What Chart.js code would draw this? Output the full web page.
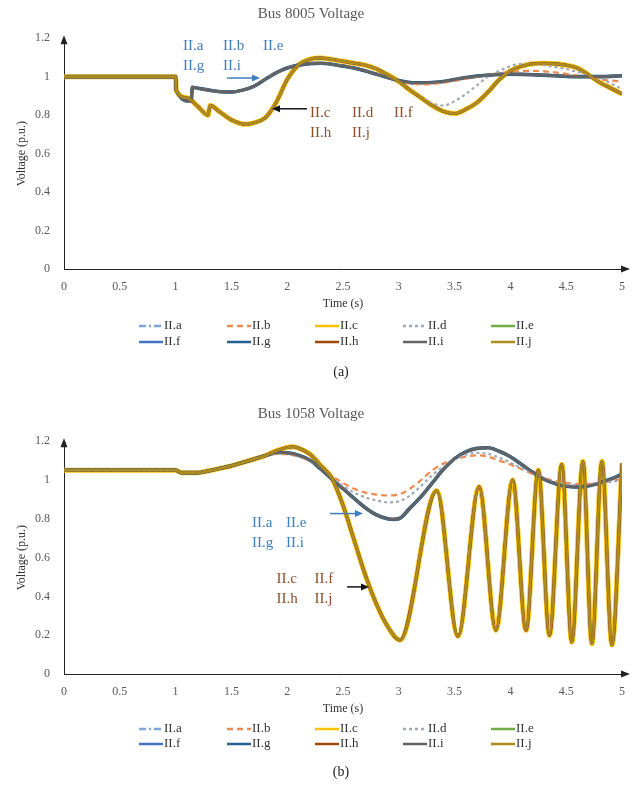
<!DOCTYPE html>
<html>
<head>
<meta charset="utf-8">
<script src="https://cdn.jsdelivr.net/npm/chart.js@4.4.1/dist/chart.umd.min.js"></script>
<style>
  body { margin: 0; background: #fff; }
  .box { position: absolute; left: 0; width: 644px; height: 398px; }
</style>
</head>
<body>
<div class="box" style="top:0"><canvas id="chartA"></canvas></div>
<div class="box" style="top:398px"><canvas id="chartB"></canvas></div>
<script>
// series names
const seriesNames = ['II.a', 'II.b', 'II.c', 'II.d', 'II.e', 'II.f', 'II.g', 'II.h', 'II.i', 'II.j'];

// tick values
const timeTicks = [0, 0.5, 1, 1.5, 2, 2.5, 3, 3.5, 4, 4.5, 5];
const voltTicks = [0, 0.2, 0.4, 0.6, 0.8, 1, 1.2];

// ---- Bus 8005 ----
// grey curve (II.a, II.e, II.g, II.i)
const t8005Grey = [0, 1.0, 1.005, 1.14, 1.15, 1.2, 1.3, 1.4, 1.5, 1.6, 1.7, 1.8, 1.9, 2.0, 2.1, 2.2, 2.3, 2.4, 2.5, 2.6, 2.7, 2.8, 2.9, 3.0, 3.1, 3.2, 3.3, 3.4, 3.5, 3.6, 3.7, 3.8, 3.9, 4.0, 4.2, 4.4, 4.6, 4.8, 5.0];
const v8005Grey = [1.0, 1.0, 0.93, 0.872, 0.945, 0.94, 0.93, 0.922, 0.92, 0.93, 0.95, 0.985, 1.02, 1.045, 1.06, 1.068, 1.07, 1.065, 1.055, 1.045, 1.03, 1.013, 0.995, 0.98, 0.97, 0.968, 0.97, 0.975, 0.985, 0.995, 1.003, 1.008, 1.012, 1.013, 1.01, 1.005, 1.0, 1.0, 1.005];
// gold curve (II.c, II.f, II.h, II.j)
const t8005Gold = [0, 1.0, 1.005, 1.1, 1.2, 1.29, 1.31, 1.4, 1.5, 1.63, 1.7, 1.8, 1.9, 2.0, 2.1, 2.2, 2.3, 2.4, 2.5, 2.6, 2.7, 2.8, 2.9, 3.0, 3.1, 3.2, 3.3, 3.4, 3.5, 3.6, 3.7, 3.8, 3.9, 4.0, 4.1, 4.2, 4.3, 4.4, 4.5, 4.6, 4.7, 4.8, 4.9, 5.0];
const v8005Gold = [1.0, 1.0, 0.93, 0.89, 0.845, 0.80, 0.85, 0.815, 0.775, 0.752, 0.76, 0.785, 0.865, 0.985, 1.06, 1.09, 1.097, 1.09, 1.08, 1.07, 1.06, 1.04, 1.01, 0.975, 0.93, 0.89, 0.85, 0.82, 0.808, 0.83, 0.865, 0.92, 0.985, 1.03, 1.055, 1.067, 1.07, 1.067, 1.06, 1.045, 1.01, 0.97, 0.94, 0.91];
// II.b
const t8005IIb = [0, 1.0, 1.005, 1.14, 1.15, 1.2, 1.3, 1.4, 1.5, 1.6, 1.7, 1.8, 1.9, 2.0, 2.1, 2.2, 2.3, 2.4, 2.5, 2.6, 2.7, 2.8, 2.9, 3.0, 3.1, 3.2, 3.3, 3.4, 3.5, 3.6, 3.7, 3.8, 3.9, 4.0, 4.1, 4.2, 4.3, 4.4, 4.5, 4.6, 4.7, 4.8, 4.9, 5.0];
const v8005IIb = [1.0, 1.0, 0.93, 0.872, 0.945, 0.94, 0.93, 0.922, 0.92, 0.93, 0.95, 0.985, 1.02, 1.045, 1.06, 1.068, 1.07, 1.065, 1.055, 1.045, 1.03, 1.013, 0.995, 0.978, 0.965, 0.96, 0.962, 0.968, 0.978, 0.99, 1.0, 1.01, 1.018, 1.025, 1.03, 1.03, 1.028, 1.022, 1.015, 1.005, 0.995, 0.985, 0.98, 0.975];
// II.d
const t8005IId = [0, 1.0, 1.005, 1.1, 1.2, 1.29, 1.31, 1.4, 1.5, 1.63, 1.7, 1.8, 1.9, 2.0, 2.1, 2.2, 2.3, 2.4, 2.5, 2.6, 2.7, 2.8, 2.9, 3.0, 3.1, 3.2, 3.3, 3.4, 3.5, 3.6, 3.7, 3.8, 3.9, 4.0, 4.1, 4.2, 4.3, 4.4, 4.5, 4.6, 4.7, 4.8, 4.9, 5.0];
const v8005IId = [1.0, 1.0, 0.93, 0.89, 0.845, 0.80, 0.85, 0.815, 0.775, 0.752, 0.76, 0.785, 0.865, 0.985, 1.06, 1.09, 1.097, 1.09, 1.08, 1.07, 1.06, 1.04, 1.01, 0.975, 0.93, 0.893, 0.862, 0.85, 0.872, 0.91, 0.955, 1.0, 1.03, 1.055, 1.066, 1.065, 1.06, 1.05, 1.04, 1.025, 1.01, 0.995, 0.965, 0.935];

// ---- Bus 1058 ----
const t1058Grey = [0, 1.0, 1.05, 1.2, 1.3, 1.4, 1.5, 1.6, 1.7, 1.8, 1.9, 1.95, 2.0, 2.1, 2.2, 2.3, 2.4, 2.5, 2.6, 2.7, 2.8, 2.9, 2.95, 3.0, 3.1, 3.2, 3.3, 3.4, 3.5, 3.6, 3.7, 3.8, 3.9, 4.0, 4.1, 4.2, 4.3, 4.4, 4.5, 4.6, 4.7, 4.8, 4.9, 5.0];
const v1058Grey = [1.05, 1.05, 1.038, 1.038, 1.048, 1.06, 1.073, 1.09, 1.107, 1.125, 1.14, 1.142, 1.14, 1.128, 1.103, 1.057, 1.005, 0.955, 0.905, 0.857, 0.82, 0.80, 0.797, 0.80, 0.855, 0.915, 0.985, 1.055, 1.11, 1.145, 1.163, 1.166, 1.148, 1.12, 1.08, 1.04, 1.005, 0.982, 0.968, 0.964, 0.97, 0.985, 1.005, 1.03];
const t1058Gold = [0, 1.0, 1.05, 1.2, 1.3, 1.4, 1.5, 1.6, 1.7, 1.8, 1.9, 2.0, 2.05, 2.1, 2.2, 2.3, 2.4, 2.5, 2.6, 2.7, 2.8, 2.9, 3.01, 3.34, 3.53, 3.72, 3.87, 4.02, 4.14, 4.25, 4.35, 4.46, 4.55, 4.65, 4.73, 4.82, 4.91, 5.0];
const v1058Gold = [1.05, 1.05, 1.038, 1.038, 1.048, 1.06, 1.073, 1.09, 1.107, 1.125, 1.15, 1.168, 1.172, 1.165, 1.135, 1.075, 1.01, 0.87, 0.69, 0.51, 0.36, 0.245, 0.175, 0.945, 0.195, 0.965, 0.225, 1.0, 0.225, 1.05, 0.20, 1.08, 0.165, 1.095, 0.157, 1.095, 0.15, 1.085];
const t1058IIb = [0, 1.0, 1.05, 1.2, 1.3, 1.4, 1.5, 1.6, 1.7, 1.8, 1.9, 2.0, 2.1, 2.2, 2.3, 2.4, 2.5, 2.6, 2.7, 2.8, 2.9, 3.0, 3.1, 3.2, 3.3, 3.4, 3.5, 3.6, 3.7, 3.8, 3.9, 4.0, 4.1, 4.2, 4.3, 4.4, 4.5, 4.6, 4.7, 4.8, 4.9, 5.0];
const v1058IIb = [1.05, 1.05, 1.038, 1.038, 1.048, 1.06, 1.073, 1.09, 1.107, 1.125, 1.135, 1.132, 1.12, 1.1, 1.06, 1.02, 0.985, 0.955, 0.935, 0.925, 0.92, 0.925, 0.955, 1.0, 1.05, 1.085, 1.107, 1.12, 1.127, 1.12, 1.1, 1.08, 1.057, 1.03, 1.01, 0.995, 0.985, 0.98, 0.98, 0.985, 0.995, 1.005];
const t1058IId = [0, 1.0, 1.05, 1.2, 1.3, 1.4, 1.5, 1.6, 1.7, 1.8, 1.9, 2.0, 2.1, 2.2, 2.3, 2.4, 2.5, 2.6, 2.7, 2.8, 2.9, 3.0, 3.1, 3.2, 3.3, 3.4, 3.5, 3.6, 3.7, 3.8, 3.9, 4.0, 4.1, 4.2, 4.3, 4.4, 4.5, 4.6, 4.7, 4.8, 4.9, 5.0];
const v1058IId = [1.05, 1.05, 1.038, 1.038, 1.048, 1.06, 1.073, 1.09, 1.107, 1.125, 1.137, 1.135, 1.122, 1.1, 1.058, 1.01, 0.97, 0.935, 0.91, 0.895, 0.885, 0.89, 0.92, 0.97, 1.025, 1.07, 1.105, 1.13, 1.14, 1.135, 1.115, 1.09, 1.06, 1.035, 1.01, 0.99, 0.978, 0.975, 0.978, 0.985, 0.99, 1.0];

// line styles
const seriesColors = ['#7FA6D8', '#EE8A4F', '#FFC000', '#A3A8B4', '#70AD47', '#4472C4', '#255E91', '#9E480E', '#636363', '#AD8C1C'];
const seriesDash = [[7, 3, 2, 3], [6, 4], [], [3, 3], [], [], [], [], [], []];
const seriesWidth = [3, 2.2, 5, 2.2, 3, 3, 3.6, 3, 2.6, 2.6];
const seriesOrder = [6, 3, 9, 2, 8, 7, 5, 4, 1, 0];

const FONT = "'Liberation Serif', 'Times New Roman', serif";

function pts(t, v) {
  return t.map((x, i) => ({ x: x, y: v[i] }));
}

function fmt(v) {
  return String(Math.round(v * 10) / 10);
}

const decor = {
  id: 'decor',
  afterDraw(chart, args, opts) {
    const ctx = chart.ctx;
    const ca = chart.chartArea;
    const xs = chart.scales.x, ys = chart.scales.y;
    ctx.save();

    // axis arrow heads
    ctx.fillStyle = '#222';
    ctx.strokeStyle = '#222';
    ctx.lineWidth = 1;
    ctx.beginPath();
    ctx.moveTo(ca.left, ca.top - 3);
    ctx.lineTo(ca.left - 3.5, ca.top + 6);
    ctx.lineTo(ca.left + 3.5, ca.top + 6);
    ctx.closePath();
    ctx.fill();
    ctx.beginPath();
    ctx.moveTo(ca.right, ca.bottom);
    ctx.lineTo(ca.right + 4, ca.bottom);
    ctx.stroke();
    ctx.beginPath();
    ctx.moveTo(ca.right + 8, ca.bottom);
    ctx.lineTo(ca.right - 1, ca.bottom - 3.5);
    ctx.lineTo(ca.right - 1, ca.bottom + 3.5);
    ctx.closePath();
    ctx.fill();

    // text notes
    ctx.font = '15px ' + FONT;
    ctx.textBaseline = 'middle';
    ctx.textAlign = 'left';
    opts.notes.forEach(n => {
      const x0 = xs.getPixelForValue(n.t);
      const y0 = ys.getPixelForValue(n.v);
      ctx.fillStyle = n.color;
      n.lines.forEach((words, r) => {
        words.forEach((w, k) => ctx.fillText(w, x0 + k * n.gap, y0 + r * 20));
      });
    });

    // arrows
    opts.arrows.forEach(a => {
      const x1 = xs.getPixelForValue(a.t1), x2 = xs.getPixelForValue(a.t2);
      const y1 = ys.getPixelForValue(a.v);
      const dir = x2 > x1 ? 1 : -1;
      ctx.strokeStyle = a.color;
      ctx.fillStyle = a.color;
      ctx.lineWidth = 1.5;
      ctx.beginPath();
      ctx.moveTo(x1, y1);
      ctx.lineTo(x2 - dir * 6, y1);
      ctx.stroke();
      ctx.beginPath();
      ctx.moveTo(x2, y1);
      ctx.lineTo(x2 - dir * 8, y1 - 3.5);
      ctx.lineTo(x2 - dir * 8, y1 + 3.5);
      ctx.closePath();
      ctx.fill();
    });

    // legend, 2 rows of 5
    const colW = 88;
    const start = (ca.left + ca.right) / 2 - colW * 2.5 + 16;
    ctx.font = '13px ' + FONT;
    chart.data.datasets.forEach((ds, i) => {
      const col = i % 5, row = Math.floor(i / 5);
      const lx = start + col * colW;
      const ly = ca.bottom + opts.legendRows[row];
      ctx.strokeStyle = ds.borderColor;
      ctx.lineWidth = 2.5;
      ctx.setLineDash(ds.borderDash);
      ctx.beginPath();
      ctx.moveTo(lx, ly);
      ctx.lineTo(lx + 24, ly);
      ctx.stroke();
      ctx.setLineDash([]);
      ctx.fillStyle = '#333';
      ctx.fillText(ds.label, lx + 25, ly);
    });

    // caption
    ctx.font = '14px ' + FONT;
    ctx.fillStyle = '#222';
    ctx.textAlign = 'center';
    ctx.fillText(opts.caption, (ca.left + ca.right) / 2 - 2, ca.bottom + opts.captionY);
    ctx.restore();
  }
};

function makeChart(id, title, series, cfg) {
  const datasets = seriesNames.map((name, i) => ({
    label: name,
    data: pts(series[i][0], series[i][1]),
    borderColor: seriesColors[i],
    borderDash: seriesDash[i],
    borderWidth: seriesWidth[i],
    order: seriesOrder[i],
    pointRadius: 0,
    fill: false,
    cubicInterpolationMode: 'monotone'
  }));
  return new Chart(document.getElementById(id), {
    type: 'line',
    data: { datasets: datasets },
    options: {
      responsive: true,
      maintainAspectRatio: false,
      animation: false,
      events: [],
      layout: { padding: { left: 0, right: 22, top: 0, bottom: cfg.bottomPad } },
      plugins: {
        legend: { display: false },
        tooltip: { enabled: false },
        title: {
          display: true,
          text: title,
          color: '#595959',
          font: { family: FONT, size: 15, weight: 'normal' },
          padding: cfg.titlePad
        },
        decor: cfg.decor
      },
      scales: {
        x: {
          type: 'linear',
          min: 0,
          max: 5,
          afterBuildTicks: s => { s.ticks = timeTicks.map(v => ({ value: v })); },
          afterFit: s => { s.height = 45; },
          grid: { display: false, drawTicks: false },
          border: { display: true, color: '#222', width: 1 },
          ticks: { color: '#595959', padding: 11, maxRotation: 0, callback: fmt, font: { family: FONT, size: 12 } },
          title: { display: true, text: 'Time (s)', color: '#333', padding: { top: 0, bottom: 3 }, font: { family: FONT, size: 12 } }
        },
        y: {
          min: 0,
          max: 1.2,
          afterBuildTicks: s => { s.ticks = voltTicks.map(v => ({ value: v })); },
          afterFit: s => { s.width = 64; },
          grid: { display: false, drawTicks: false },
          border: { display: true, color: '#222', width: 1 },
          ticks: { color: '#595959', padding: 14, callback: fmt, font: { family: FONT, size: 12 } },
          title: { display: true, text: 'Voltage (p.u.)', color: '#333', padding: { top: 15, bottom: 0 }, font: { family: FONT, size: 12 } }
        }
      }
    },
    plugins: [decor]
  });
}

const gA = [t8005Grey, v8005Grey], oA = [t8005Gold, v8005Gold];
makeChart('chartA', 'Bus 8005 Voltage',
  [gA, [t8005IIb, v8005IIb], oA, [t8005IId, v8005IId], gA, oA, gA, oA, gA, oA],
  {
    bottomPad: 84,
    titlePad: { top: 4.6, bottom: 15.6 },
    decor: {
      notes: [
        { lines: [['II.a', 'II.b', 'II.e'], ['II.g', 'II.i']], t: 1.066, v: 1.159, gap: 40, color: '#3D7DC0' },
        { lines: [['II.c', 'II.d', 'II.f'], ['II.h', 'II.j']], t: 2.204, v: 0.812, gap: 42, color: '#8E4E2A' }
      ],
      arrows: [
        { t1: 1.46, t2: 1.756, v: 0.993, color: '#3D7DC0' },
        { t1: 2.177, t2: 1.864, v: 0.833, color: '#111' }
      ],
      legendRows: [57, 73],
      captionY: 103,
      caption: '(a)'
    }
  });

const gB = [t1058Grey, v1058Grey], oB = [t1058Gold, v1058Gold];
makeChart('chartB', 'Bus 1058 Voltage',
  [gB, [t1058IIb, v1058IIb], oB, [t1058IId, v1058IId], gB, oB, gB, oB, gB, oB],
  {
    bottomPad: 77,
    titlePad: { top: 6.6, bottom: 18.6 },
    decor: {
      notes: [
        { lines: [['II.a', 'II.e'], ['II.g', 'II.i']], t: 1.685, v: 0.776, gap: 34, color: '#3D7DC0' },
        { lines: [['II.c', 'II.f'], ['II.h', 'II.j']], t: 1.905, v: 0.49, gap: 38, color: '#8E4E2A' }
      ],
      arrows: [
        { t1: 2.383, t2: 2.679, v: 0.827, color: '#3D7DC0' },
        { t1: 2.536, t2: 2.733, v: 0.449, color: '#111' }
      ],
      legendRows: [55, 70],
      captionY: 98,
      caption: '(b)'
    }
  });
</script>
</body>
</html>
